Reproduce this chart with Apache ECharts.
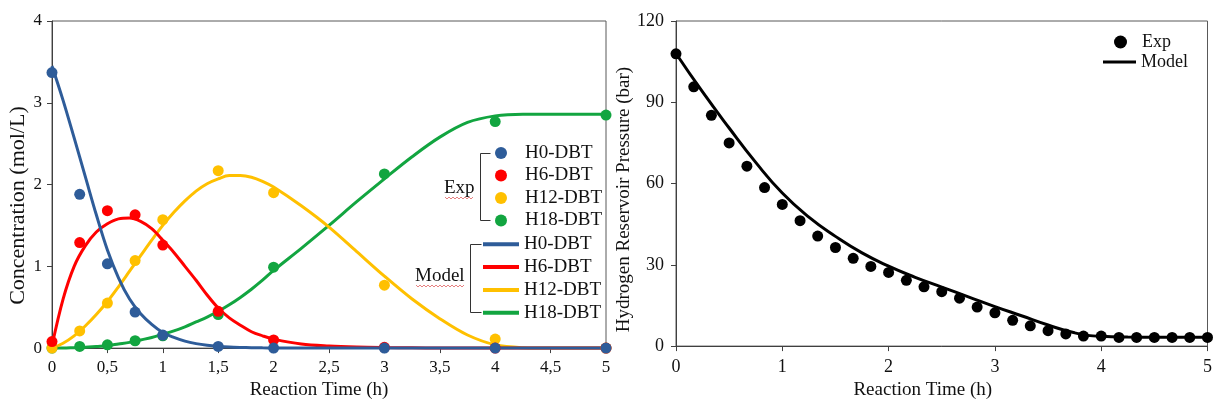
<!DOCTYPE html>
<html>
<head>
<meta charset="utf-8">
<script src="https://cdn.jsdelivr.net/npm/echarts@6.0.0/dist/echarts.min.js"></script>
<style>
  html, body { margin: 0; padding: 0; background: #ffffff; }
  #chart { width: 1215px; height: 405px; }
</style>
</head>
<body>
<div id="chart"></div>
<script>
// ---------- Left panel: concentrations ----------
const leftTimes = [0, 0.25, 0.5, 0.75, 1, 1.5, 2, 3, 4, 5];
const expH0  = [3.37, 1.88, 1.03, 0.44, 0.16, 0.02, 0.00, 0.00, 0.00, 0.00];
const expH6  = [0.08, 1.29, 1.68, 1.63, 1.26, 0.45, 0.10, 0.01, 0.00, 0.00];
const expH12 = [0.00, 0.21, 0.55, 1.07, 1.57, 2.17, 1.90, 0.77, 0.11, 0.00];
const expH18 = [0.00, 0.02, 0.04, 0.09, 0.15, 0.41, 0.99, 2.13, 2.77, 2.85];

const modelTimes = [0, 0.1, 0.2, 0.3, 0.4, 0.5, 0.6, 0.7, 0.8, 0.9, 1.0, 1.1, 1.2, 1.3, 1.4, 1.5,
                    1.6, 1.7, 1.8, 1.9, 2.0, 2.25, 2.5, 2.75, 3.0, 3.25, 3.5, 3.75, 4.0, 4.25, 4.5, 5.0];
const modelH0  = [3.45, 3.03, 2.57, 2.10, 1.63, 1.20, 0.86, 0.60, 0.42, 0.29, 0.19, 0.13, 0.085, 0.055, 0.035, 0.022,
                  0.013, 0.008, 0.005, 0.003, 0.002, 0, 0, 0, 0, 0, 0, 0, 0, 0, 0, 0];
const modelH6  = [0.03, 0.60, 1.00, 1.25, 1.42, 1.52, 1.58, 1.59, 1.55, 1.46, 1.32, 1.17, 1.00, 0.83, 0.65, 0.49,
                  0.37, 0.28, 0.20, 0.15, 0.11, 0.05, 0.025, 0.012, 0.006, 0.003, 0, 0, 0, 0, 0, 0];
const modelH12 = [0.00, 0.06, 0.15, 0.27, 0.41, 0.57, 0.75, 0.94, 1.13, 1.32, 1.50, 1.66, 1.80, 1.92, 2.01, 2.07,
                  2.11, 2.11, 2.09, 2.04, 1.97, 1.74, 1.48, 1.18, 0.88, 0.60, 0.36, 0.16, 0.04, 0.005, 0, 0];
const modelH18 = [0.00, 0.00, 0.005, 0.01, 0.02, 0.03, 0.05, 0.07, 0.10, 0.13, 0.17, 0.21, 0.26, 0.32, 0.38, 0.45,
                  0.53, 0.62, 0.72, 0.83, 0.95, 1.22, 1.50, 1.79, 2.07, 2.34, 2.58, 2.76, 2.84, 2.86, 2.86, 2.86];

const leftXTicks = [0, 0.5, 1, 1.5, 2, 2.5, 3, 3.5, 4, 4.5, 5];
const leftYTicks = [0, 1, 2, 3, 4];

// ---------- Right panel: pressure ----------
const pressTimes = [0, 0.167, 0.333, 0.5, 0.667, 0.833, 1.0, 1.167, 1.333, 1.5, 1.667, 1.833, 2.0, 2.167,
                    2.333, 2.5, 2.667, 2.833, 3.0, 3.167, 3.333, 3.5, 3.667, 3.833, 4.0, 4.167, 4.333, 4.5,
                    4.667, 4.833, 5.0];
const pressExp = [107.9, 95.7, 85.2, 75.0, 66.4, 58.5, 52.3, 46.3, 40.6, 36.4, 32.4, 29.4, 27.2, 24.3,
                  21.9, 20.1, 17.7, 14.4, 12.3, 9.5, 7.5, 5.7, 4.5, 3.7, 3.7, 3.2, 3.2, 3.2, 3.2, 3.2, 3.2];
const pressModelTimes = [0, 0.25, 0.5, 0.75, 1, 1.25, 1.5, 1.75, 2, 2.25, 2.5, 2.75, 3, 3.25, 3.5, 3.75, 4, 4.25, 4.5, 5];
const pressModel = [108, 93.8, 80.5, 67.8, 56.5, 47.6, 40.5, 34.4, 29.5, 25.4, 21.8, 18.2, 14.6, 11.2, 7.8, 4.9, 3.6, 3.35, 3.3, 3.3];

const rightXTicks = [0, 1, 2, 3, 4, 5];
const rightYTicks = [0, 30, 60, 90, 120];

const seriesNames = ['H0-DBT', 'H6-DBT', 'H12-DBT', 'H18-DBT'];
const colors = ['#2E5C99', '#FF0000', '#FFC000', '#12A540'];

// ---------- build ----------
const FONT = '"Liberation Serif", "Times New Roman", serif';
const TXT = '#111111';
const AX = '#404040';

const pair = (xs, ys) => xs.map((x, i) => [x, ys[i]]);
const expSets = [expH0, expH6, expH12, expH18];
const modelSets = [modelH0, modelH6, modelH12, modelH18];

function axisCommon(fontSize, margin) {
  return {
    axisLine: { show: true, onZero: false, lineStyle: { color: AX, width: 1 } },
    axisTick: { show: true, length: 5, lineStyle: { color: AX, width: 1 } },
    splitLine: { show: false },
    axisLabel: { fontFamily: FONT, fontSize: fontSize, color: TXT, margin: margin }
  };
}

const series = [];
for (let k = 3; k >= 0; k--) {
  series.push({
    name: 'Model ' + seriesNames[k], type: 'line', xAxisIndex: 0, yAxisIndex: 0,
    data: pair(modelTimes, modelSets[k]), smooth: 0.35, symbol: 'none', showSymbol: false, clip: false,
    lineStyle: { color: colors[k], width: 3 }, itemStyle: { color: colors[k] }, z: 2
  });
}
for (let k = 3; k >= 0; k--) {
  series.push({
    name: 'Exp ' + seriesNames[k], type: 'scatter', xAxisIndex: 0, yAxisIndex: 0,
    data: pair(leftTimes, expSets[k]), symbol: 'circle', symbolSize: 11, clip: false,
    itemStyle: { color: colors[k], opacity: 1 }, z: 3
  });
}
series.push({
  name: 'Model', type: 'line', xAxisIndex: 1, yAxisIndex: 1,
  data: pair(pressModelTimes, pressModel), smooth: 0.5, symbol: 'none', showSymbol: false, clip: false,
  lineStyle: { color: '#000000', width: 3 }, itemStyle: { color: '#000000' }, z: 2
});
series.push({
  name: 'Exp', type: 'scatter', xAxisIndex: 1, yAxisIndex: 1,
  data: pair(pressTimes, pressExp), symbol: 'circle', symbolSize: 11, clip: false,
  itemStyle: { color: '#000000', opacity: 1 }, z: 3
});

function wavy(x0, x1, y) {
  const pts = [];
  let up = true;
  for (let x = x0; x <= x1; x += 2) { pts.push([x, y + (up ? -1 : 1)]); up = !up; }
  return pts;
}

const option = {
  animation: false,
  backgroundColor: '#ffffff',
  grid: [
    { left: 52, top: 21, width: 554, height: 334, show: true, borderColor: '#595959', borderWidth: 1 },
    { left: 676, top: 21, width: 535, height: 335, show: true, borderColor: '#595959', borderWidth: 1 }
  ],
  xAxis: [
    Object.assign(axisCommon(17, 11), {
      type: 'value', gridIndex: 0, min: leftXTicks[0], max: leftXTicks[leftXTicks.length - 1], interval: 0.5,
      name: 'Reaction Time (h)', nameLocation: 'middle', nameGap: 31,
      nameTextStyle: { fontFamily: FONT, fontSize: 19, color: TXT, padding: [0, 20, 0, 0] }
    }),
    Object.assign(axisCommon(18, 12), {
      type: 'value', gridIndex: 1, min: rightXTicks[0], max: rightXTicks[rightXTicks.length - 1], interval: 1,
      name: 'Reaction Time (h)', nameLocation: 'middle', nameGap: 25,
      nameTextStyle: { fontFamily: FONT, fontSize: 19, color: TXT, padding: [0, 38, 0, 0] }
    })
  ],
  yAxis: [
    Object.assign(axisCommon(17, 10), {
      type: 'value', gridIndex: 0, min: leftYTicks[0], max: leftYTicks[leftYTicks.length - 1], interval: 1,
      name: 'Concentration (mol/L)', nameLocation: 'middle', nameGap: 20,
      nameTextStyle: { fontFamily: FONT, fontSize: 22, color: TXT, padding: [0, 42, 0, 0] }
    }),
    Object.assign(axisCommon(18, 12), {
      type: 'value', gridIndex: 1, min: rightYTicks[0], max: rightYTicks[rightYTicks.length - 1], interval: 30,
      name: 'Hydrogen Reservoir Pressure (bar)', nameLocation: 'middle', nameGap: 29,
      nameTextStyle: { fontFamily: FONT, fontSize: 19, color: TXT, padding: [0, 32, 0, 0] }
    })
  ],
  legend: [
    {
      data: seriesNames.map(n => 'Exp ' + n), orient: 'vertical', left: 495, top: 141.75, padding: 0,
      itemWidth: 38, itemHeight: 12, itemGap: 0, selectedMode: false,
      formatter: n => n.replace(/^Exp /, ''),
      textStyle: { fontFamily: FONT, fontSize: 19, color: TXT, lineHeight: 22.5 }
    },
    {
      data: seriesNames.map(n => ({ name: 'Model ' + n, icon: 'rect' })), orient: 'vertical', left: 483, top: 232.9, padding: 0,
      itemWidth: 36, itemHeight: 4, itemGap: 0, selectedMode: false,
      formatter: n => n.replace(/^Model /, ''),
      textStyle: { fontFamily: FONT, fontSize: 19, color: TXT, lineHeight: 22.8 }
    },
    {
      data: ['Exp'], orient: 'vertical', left: 1114, top: 32, padding: 0,
      itemWidth: 33, itemHeight: 13, itemGap: 0, selectedMode: false,
      textStyle: { fontFamily: FONT, fontSize: 18, color: TXT, lineHeight: 20 }
    },
    {
      data: [{ name: 'Model', icon: 'rect' }], orient: 'vertical', left: 1103, top: 52, padding: 0,
      itemWidth: 33, itemHeight: 3, itemGap: 0, selectedMode: false,
      textStyle: { fontFamily: FONT, fontSize: 18, color: TXT, lineHeight: 20 }
    }
  ],
  graphic: [
    { type: 'polyline', shape: { points: [[490.5, 153.5], [480.5, 153.5], [480.5, 220.5], [490.5, 220.5]] },
      style: { stroke: '#333333', fill: null, lineWidth: 1 } },
    { type: 'polyline', shape: { points: [[481.5, 244.5], [470.5, 244.5], [470.5, 312.5], [481.5, 312.5]] },
      style: { stroke: '#333333', fill: null, lineWidth: 1 } },
    { type: 'text', x: 444, y: 188, style: { text: 'Exp', font: '19px ' + FONT, fill: TXT, verticalAlign: 'middle' } },
    { type: 'text', x: 415, y: 276, style: { text: 'Model', font: '19px ' + FONT, fill: TXT, verticalAlign: 'middle' } },
    { type: 'polyline', shape: { points: wavy(445, 474, 198) }, style: { stroke: '#E06060', fill: null, lineWidth: 0.8 } },
    { type: 'polyline', shape: { points: wavy(416, 464, 286) }, style: { stroke: '#E06060', fill: null, lineWidth: 0.8 } }
  ],
  series: series
};

option.xAxis[0].axisLabel.formatter = v => String(v).replace('.', ',');

const chart = echarts.init(document.getElementById('chart'), null, { renderer: 'canvas' });
chart.setOption(option);
</script>
</body>
</html>
